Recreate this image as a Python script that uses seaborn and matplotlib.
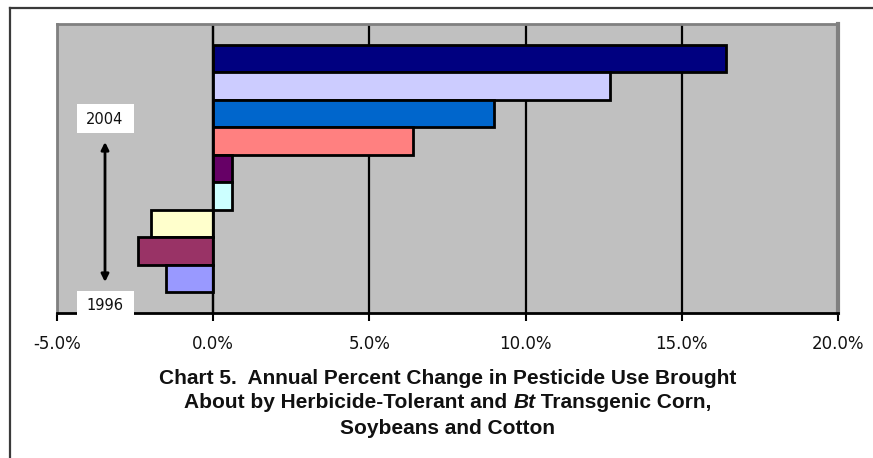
import matplotlib
matplotlib.use("Agg")
import matplotlib.pyplot as plt
from matplotlib.patches import Rectangle
from matplotlib.lines import Line2D
from matplotlib.ticker import FixedLocator, FuncFormatter
import seaborn as sns
import pandas as pd

# Annual percent change in pesticide use, 1996-2004
years = ["1996", "1997", "1998", "1999", "2000", "2001", "2002", "2003", "2004"]
pct_change = [-1.5, -2.4, -2.0, 0.6, 0.6, 6.4, 9.0, 12.7, 16.4]
bar_colors = ["#9999FF", "#993366", "#FFFFCC", "#CCFFFF", "#660066",
              "#FF8080", "#0066CC", "#CCCCFF", "#000080"]
x_ticks = [-5, 0, 5, 10, 15, 20]
title_lines = ["Chart 5.  Annual Percent Change in Pesticide Use Brought",
               ("About by Herbicide-Tolerant and ", "Bt", " Transgenic Corn,"),
               "Soybeans and Cotton"]

df = pd.DataFrame({"year": years, "change": pct_change})
palette = dict(zip(years, bar_colors))
order = years[::-1]  # latest year on top

W, H = 873, 458
fig = plt.figure(figsize=(W / 100, H / 100), dpi=100)
fig.patch.set_facecolor("white")

# plot area in pixel terms
left, right, top, bottom = 57, 838, 24, 313
ax = fig.add_axes([left / W, 1 - bottom / H, (right - left) / W, (bottom - top) / H])
ax.set_facecolor("#C0C0C0")

ax.xaxis.set_major_locator(FixedLocator(x_ticks))
ax.grid(axis="x", color="black", linewidth=1.6, zorder=0)
ax.set_axisbelow(True)

sns.barplot(data=df, x="change", y="year", order=order, hue="year",
            hue_order=order, palette=palette, saturation=1, width=1.0,
            errorbar=None, edgecolor="black", linewidth=2.0, legend=False,
            orient="h", ax=ax)

ax.axvline(0, color="black", linewidth=1.6, zorder=5)
ax.set_xlim(-5, 20)
ax.set_ylim(len(years) - 1 + 1.25, -1.25)
ax.set_xlabel("")
ax.set_ylabel("")
ax.set_yticks([])
ax.xaxis.set_major_formatter(FuncFormatter(lambda v, p: f"{v:.1f}%"))
ax.tick_params(axis="x", direction="out", length=6, width=1.5, color="black",
               labelsize=12, pad=10, labelcolor="#111111")

for s in ("top", "left"):
    ax.spines[s].set_color("#808080")
    ax.spines[s].set_linewidth(2)
ax.spines["right"].set_color("#808080")
ax.spines["right"].set_linewidth(3)
ax.spines["bottom"].set_color("black")
ax.spines["bottom"].set_linewidth(2)
for s in ax.spines.values():
    s.set_zorder(6)

# overlay in pixel coordinates for frame, year labels, arrow and caption
ov = fig.add_axes([0, 0, 1, 1], facecolor="none")
ov.set_xlim(0, W)
ov.set_ylim(H, 0)
ov.axis("off")

ov.add_line(Line2D([10, W], [8, 8], color="#3a3a3a", linewidth=1.6))
ov.add_line(Line2D([10, 10], [8, H], color="#3a3a3a", linewidth=1.6))

for label, yc in (("2004", 118.5), ("1996", 305)):
    ov.add_patch(Rectangle((77, yc - 14.5), 57, 29, facecolor="white",
                           edgecolor="none", zorder=3))
    ov.text(105, yc + 1, label, ha="center", va="center", fontsize=10.5,
            color="#111111", zorder=4)

ov.annotate("", xy=(105, 142), xytext=(105, 282),
            arrowprops=dict(arrowstyle="<|-|>", color="black", lw=2,
                            mutation_scale=11, shrinkA=0, shrinkB=0))

tfont = dict(fontsize=15, fontweight="bold", color="#111111",
             family=["Liberation Sans"])
ov.text(448, 378, title_lines[0], ha="center", va="center", **tfont)
ov.text(448, 428, title_lines[2], ha="center", va="center", **tfont)

# middle caption line with the italic "Bt"
renderer = fig.canvas.get_renderer()
parts = []
for i, piece in enumerate(title_lines[1]):
    style = "italic" if i == 1 else "normal"
    t = ov.text(0, 403, piece, ha="left", va="center", style=style, **tfont)
    parts.append(t)
widths = [t.get_window_extent(renderer).width for t in parts]
x0 = 448 - sum(widths) / 2
for t, w in zip(parts, widths):
    t.set_x(x0)
    x0 += w

fig.savefig("out.png", dpi=100)
